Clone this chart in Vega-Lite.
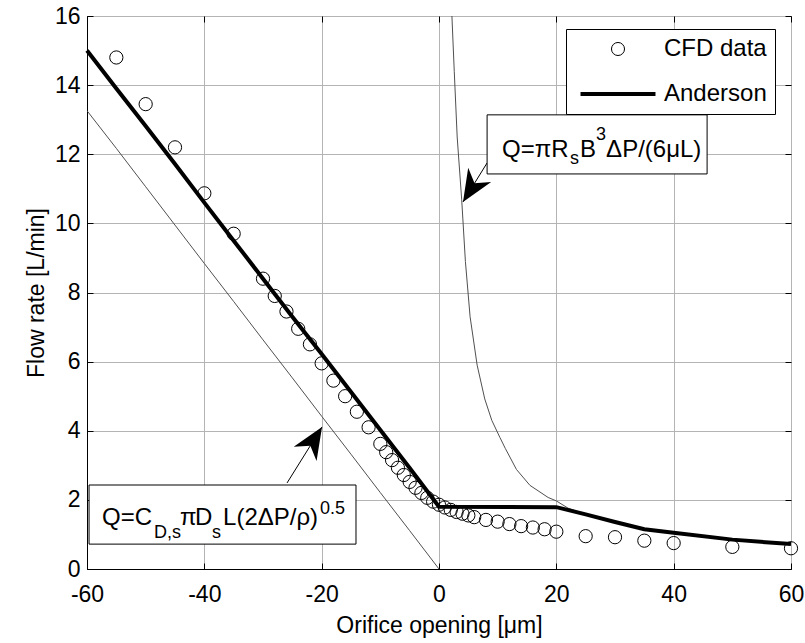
{
  "$schema": "https://vega.github.io/schema/vega-lite/v6.json",
  "width": 704,
  "height": 553,
  "autosize": "none",
  "padding": {"left": 87, "top": 16, "right": 14, "bottom": 74},
  "background": "white",
  "config": {
    "font": "Liberation Sans",
    "view": {"stroke": "black", "strokeWidth": 1}
  },
  "datasets": {
    "cfd": [
      {"x": -55, "q": 14.8}, {"x": -50, "q": 13.45}, {"x": -45, "q": 12.2}, {"x": -40, "q": 10.87},
      {"x": -35, "q": 9.7}, {"x": -30, "q": 8.4}, {"x": -28, "q": 7.9}, {"x": -26, "q": 7.45},
      {"x": -24, "q": 6.95}, {"x": -22, "q": 6.5}, {"x": -20, "q": 5.95}, {"x": -18, "q": 5.45},
      {"x": -16, "q": 5.0}, {"x": -14, "q": 4.55}, {"x": -12, "q": 4.1}, {"x": -10, "q": 3.62},
      {"x": -9, "q": 3.38}, {"x": -8, "q": 3.15}, {"x": -7, "q": 2.93}, {"x": -6, "q": 2.72},
      {"x": -5, "q": 2.52}, {"x": -4, "q": 2.35}, {"x": -3, "q": 2.2}, {"x": -2, "q": 2.06},
      {"x": -1, "q": 1.95}, {"x": 0, "q": 1.86}, {"x": 1, "q": 1.78}, {"x": 2, "q": 1.71},
      {"x": 3, "q": 1.65}, {"x": 4, "q": 1.6}, {"x": 5, "q": 1.55}, {"x": 6, "q": 1.5},
      {"x": 8, "q": 1.42}, {"x": 10, "q": 1.37}, {"x": 12, "q": 1.3}, {"x": 14, "q": 1.24},
      {"x": 16, "q": 1.2}, {"x": 18, "q": 1.15}, {"x": 20, "q": 1.08}, {"x": 25, "q": 0.95},
      {"x": 30, "q": 0.92}, {"x": 35, "q": 0.82}, {"x": 40, "q": 0.75}, {"x": 50, "q": 0.64},
      {"x": 60, "q": 0.6}
    ],
    "anderson": [
      {"x": -60, "q": 15.0}, {"x": -55, "q": 13.9}, {"x": -50, "q": 12.82}, {"x": -45, "q": 11.72},
      {"x": -40, "q": 10.6}, {"x": -35, "q": 9.5}, {"x": -30, "q": 8.4}, {"x": -25, "q": 7.3},
      {"x": -20, "q": 6.22}, {"x": -15, "q": 5.12}, {"x": -10, "q": 4.02}, {"x": -5, "q": 2.92},
      {"x": 0, "q": 1.8}, {"x": 20, "q": 1.79}, {"x": 25, "q": 1.58}, {"x": 30, "q": 1.36},
      {"x": 35, "q": 1.15}, {"x": 40, "q": 1.05}, {"x": 50, "q": 0.85}, {"x": 60, "q": 0.72}
    ],
    "orifice": [
      {"x": -60, "q": 13.26}, {"x": -55, "q": 12.17}, {"x": -50, "q": 11.06}, {"x": -45, "q": 9.95},
      {"x": -40, "q": 8.84}, {"x": -35, "q": 7.74}, {"x": -30, "q": 6.63}, {"x": -25, "q": 5.53},
      {"x": -20, "q": 4.42}, {"x": -15, "q": 3.32}, {"x": -10, "q": 2.21}, {"x": -5, "q": 1.11},
      {"x": 0, "q": 0}
    ],
    "laminar": [
      {"x": 2.2, "q": 16.0}, {"x": 2.6, "q": 14.4}, {"x": 3.1, "q": 12.5}, {"x": 3.87, "q": 10.68},
      {"x": 4.5, "q": 8.9}, {"x": 5.3, "q": 7.3}, {"x": 6.5, "q": 5.9}, {"x": 7.8, "q": 4.92},
      {"x": 9.0, "q": 4.3}, {"x": 10.4, "q": 3.8}, {"x": 11.3, "q": 3.49}, {"x": 13.2, "q": 2.88},
      {"x": 15.5, "q": 2.42}, {"x": 18.6, "q": 2.07}, {"x": 20, "q": 1.97}, {"x": 22, "q": 1.76},
      {"x": 25, "q": 1.58}
    ],
    "arrows": [
      {"arrow": "laminar", "x0": 8.2, "y0": 11.75, "x1": 4.09, "y1": 10.62},
      {"arrow": "orifice", "x0": -25.9, "y0": 2.49, "x1": -19.94, "y1": 4.11}
    ],
    "boxes": [
      {"box": "laminar", "x0": 8.2, "x1": 45.7, "y0": 13.14, "y1": 11.43},
      {"box": "orifice", "x0": -59.65, "x1": -14.15, "y0": 2.43, "y1": 0.72}
    ]
  },
  "resolve": {"axis": {"x": "independent", "y": "independent"}},
  "layer": [
    {
      "data": {"name": "orifice"},
      "mark": {"type": "line", "color": "#505050", "strokeWidth": 1, "clip": true},
      "encoding": {
        "x": {
          "field": "x", "type": "quantitative",
          "scale": {"domain": [-60, 60], "nice": false, "zero": false},
          "axis": {
            "orient": "bottom", "values": [-60, -40, -20, 0, 20, 40, 60],
            "labelExpr": "'' + datum.value",
            "grid": true, "gridColor": "#b4b4b4", "gridWidth": 1,
            "tickSize": -6, "tickColor": "black", "tickWidth": 1,
            "domain": true, "domainColor": "black", "domainWidth": 1,
            "labelFontSize": 23, "labelFont": "Liberation Sans", "labelColor": "black",
            "labelPadding": 20, "labelFlush": false, "labelOverlap": false,
            "title": "Orifice opening [μm]", "titleFontSize": 23, "titleFont": "Liberation Sans",
            "titleFontWeight": "normal", "titleColor": "black", "titlePadding": 8
          }
        },
        "y": {
          "field": "q", "type": "quantitative",
          "scale": {"domain": [0, 16], "nice": false, "zero": false},
          "axis": {
            "orient": "left", "values": [0, 2, 4, 6, 8, 10, 12, 14, 16],
            "labelExpr": "'' + datum.value",
            "grid": true, "gridColor": "#b4b4b4", "gridWidth": 1,
            "tickSize": -6, "tickColor": "black", "tickWidth": 1,
            "domain": true, "domainColor": "black", "domainWidth": 1,
            "labelFontSize": 23, "labelFont": "Liberation Sans", "labelColor": "black",
            "labelPadding": 13, "labelFlush": false, "labelOverlap": false,
            "title": "Flow rate [L/min]", "titleFontSize": 23, "titleFont": "Liberation Sans",
            "titleFontWeight": "normal", "titleColor": "black", "titlePadding": 6
          }
        }
      }
    },
    {
      "data": {"name": "laminar"},
      "mark": {"type": "line", "color": "#505050", "strokeWidth": 1, "clip": true},
      "encoding": {
        "x": {
          "field": "x", "type": "quantitative",
          "axis": {
            "orient": "top", "values": [-60, -40, -20, 0, 20, 40, 60],
            "grid": false, "labels": false, "domain": false, "title": null,
            "tickSize": -6, "tickColor": "black", "tickWidth": 1
          }
        },
        "y": {
          "field": "q", "type": "quantitative",
          "axis": {
            "orient": "right", "values": [0, 2, 4, 6, 8, 10, 12, 14, 16],
            "grid": false, "labels": false, "domain": false, "title": null,
            "tickSize": -6, "tickColor": "black", "tickWidth": 1
          }
        }
      }
    },
    {
      "data": {"name": "anderson"},
      "mark": {"type": "line", "strokeWidth": 4},
      "encoding": {
        "x": {"field": "x", "type": "quantitative", "axis": null},
        "y": {"field": "q", "type": "quantitative", "axis": null},
        "color": {"datum": "Anderson", "type": "nominal"}
      }
    },
    {
      "data": {"name": "cfd"},
      "mark": {"type": "point", "shape": "circle", "filled": false, "size": 175, "strokeWidth": 1, "opacity": 1},
      "encoding": {
        "x": {"field": "x", "type": "quantitative", "axis": null},
        "y": {"field": "q", "type": "quantitative", "axis": null},
        "color": {
          "datum": "CFD data", "type": "nominal",
          "scale": {"domain": ["CFD data", "Anderson"], "range": ["black", "black"]},
          "legend": {
            "orient": "none", "legendX": 479, "legendY": 13,
            "title": null, "padding": 8,
            "strokeColor": "black", "fillColor": "white", "cornerRadius": 0,
            "symbolSize": 170, "symbolOffset": 32, "labelOffset": 34, "rowPadding": 21,
            "labelFontSize": 24, "labelFont": "Liberation Sans", "labelColor": "black", "labelLimit": 400,
            "encoding": {
              "symbols": {
                "shape": {"value": {"expr": "datum.value === 'Anderson' ? 'M-5.75,0H5.75' : 'circle'"}},
                "strokeWidth": {"value": {"expr": "datum.value === 'Anderson' ? 4 : 1"}},
                "stroke": {"value": "black"},
                "fill": {"value": "transparent"},
                "opacity": {"value": 1}
              }
            }
          }
        }
      }
    },
    {
      "data": {"name": "arrows"},
      "mark": {"type": "rule", "color": "black", "strokeWidth": 1},
      "encoding": {
        "x": {"field": "x0", "type": "quantitative", "axis": null},
        "y": {"field": "y0", "type": "quantitative", "axis": null},
        "x2": {"field": "x1"},
        "y2": {"field": "y1"}
      }
    },
    {
      "data": {"name": "arrows"},
      "transform": [{"filter": "datum.arrow === 'laminar'"}],
      "mark": {"type": "point", "shape": "M0,0L-0.55,1.3L0,0.9L0.55,1.3Z", "size": 2400, "filled": true, "color": "black", "opacity": 1, "angle": 211.6},
      "encoding": {
        "x": {"field": "x1", "type": "quantitative", "axis": null},
        "y": {"field": "y1", "type": "quantitative", "axis": null}
      }
    },
    {
      "data": {"name": "arrows"},
      "transform": [{"filter": "datum.arrow === 'orifice'"}],
      "mark": {"type": "point", "shape": "M0,0L-0.55,1.3L0,0.9L0.55,1.3Z", "size": 2400, "filled": true, "color": "black", "opacity": 1, "angle": 32},
      "encoding": {
        "x": {"field": "x1", "type": "quantitative", "axis": null},
        "y": {"field": "y1", "type": "quantitative", "axis": null}
      }
    },
    {
      "data": {"name": "boxes"},
      "mark": {"type": "rect", "fill": "white", "stroke": "black", "strokeWidth": 1},
      "encoding": {
        "x": {"field": "x0", "type": "quantitative", "axis": null},
        "x2": {"field": "x1"},
        "y": {"field": "y0", "type": "quantitative", "axis": null},
        "y2": {"field": "y1"}
      }
    },
    {
      "data": {"name": "boxes"},
      "transform": [{"filter": "datum.box === 'laminar'"}],
      "layer": [
        {"mark": {"type": "text", "align": "left", "baseline": "alphabetic", "dx": 15, "dy": 42, "fontSize": 24, "font": "Liberation Sans", "color": "black"}, "encoding": {"text": {"value": "Q=πR"}}},
        {"mark": {"type": "text", "align": "left", "baseline": "alphabetic", "dx": 83, "dy": 49, "fontSize": 18, "font": "Liberation Sans", "color": "black"}, "encoding": {"text": {"value": "s"}}},
        {"mark": {"type": "text", "align": "left", "baseline": "alphabetic", "dx": 93, "dy": 42, "fontSize": 24, "font": "Liberation Sans", "color": "black"}, "encoding": {"text": {"value": "B"}}},
        {"mark": {"type": "text", "align": "left", "baseline": "alphabetic", "dx": 109, "dy": 25, "fontSize": 18, "font": "Liberation Sans", "color": "black"}, "encoding": {"text": {"value": "3"}}},
        {"mark": {"type": "text", "align": "left", "baseline": "alphabetic", "dx": 119, "dy": 42, "fontSize": 24, "font": "Liberation Sans", "color": "black"}, "encoding": {"text": {"value": "ΔP/(6μL)"}}}
      ],
      "encoding": {
        "x": {"field": "x0", "type": "quantitative", "axis": null},
        "y": {"field": "y0", "type": "quantitative", "axis": null}
      }
    },
    {
      "data": {"name": "boxes"},
      "transform": [{"filter": "datum.box === 'orifice'"}],
      "layer": [
        {"mark": {"type": "text", "align": "left", "baseline": "alphabetic", "dx": 13, "dy": 40, "fontSize": 24, "font": "Liberation Sans", "color": "black"}, "encoding": {"text": {"value": "Q=C"}}},
        {"mark": {"type": "text", "align": "left", "baseline": "alphabetic", "dx": 65, "dy": 53, "fontSize": 18, "font": "Liberation Sans", "color": "black"}, "encoding": {"text": {"value": "D,s"}}},
        {"mark": {"type": "text", "align": "left", "baseline": "alphabetic", "dx": 91, "dy": 40, "fontSize": 24, "font": "Liberation Sans", "color": "black"}, "encoding": {"text": {"value": "π"}}},
        {"mark": {"type": "text", "align": "left", "baseline": "alphabetic", "dx": 106, "dy": 40, "fontSize": 24, "font": "Liberation Sans", "color": "black"}, "encoding": {"text": {"value": "D"}}},
        {"mark": {"type": "text", "align": "left", "baseline": "alphabetic", "dx": 123, "dy": 53, "fontSize": 18, "font": "Liberation Sans", "color": "black"}, "encoding": {"text": {"value": "s"}}},
        {"mark": {"type": "text", "align": "left", "baseline": "alphabetic", "dx": 134, "dy": 40, "fontSize": 24, "font": "Liberation Sans", "color": "black"}, "encoding": {"text": {"value": "L(2ΔP/ρ)"}}},
        {"mark": {"type": "text", "align": "left", "baseline": "alphabetic", "dx": 231, "dy": 29, "fontSize": 18, "font": "Liberation Sans", "color": "black"}, "encoding": {"text": {"value": "0.5"}}}
      ],
      "encoding": {
        "x": {"field": "x0", "type": "quantitative", "axis": null},
        "y": {"field": "y0", "type": "quantitative", "axis": null}
      }
    }
  ]
}
